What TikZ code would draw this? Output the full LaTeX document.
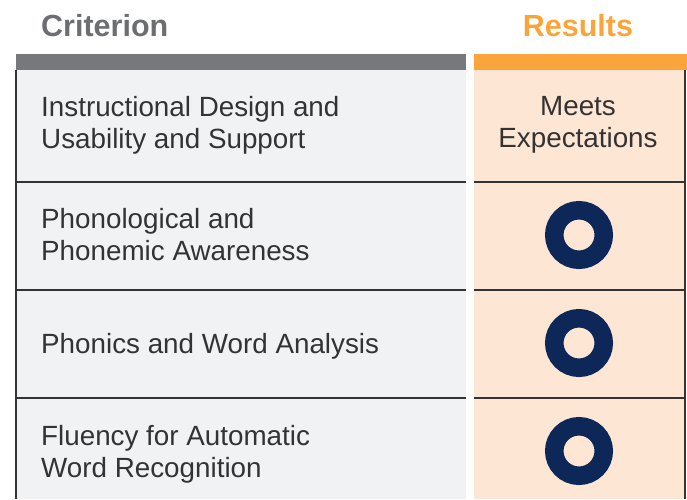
\documentclass[tikz,border=0pt]{standalone}
\usepackage{fontspec}
\setmainfont{Liberation Sans}
\usetikzlibrary{positioning}
\definecolor{headgray}{RGB}{119,120,123}
\definecolor{headorange}{RGB}{249,165,59}
\definecolor{cellgray}{RGB}{241,242,244}
\definecolor{cellorange}{RGB}{253,230,212}
\definecolor{ringblue}{RGB}{13,39,89}
\definecolor{textgray}{RGB}{51,51,51}
\definecolor{titlegray}{RGB}{109,110,113}

\begin{document}
\begin{tikzpicture}[
    x=1pt, y=-1pt,
    title/.style={anchor=base, inner sep=0pt, font=\fontsize{30.5}{30.5}\selectfont\bfseries},
    crit/.style={anchor=base west, inner sep=0pt, align=left, text=textgray,
                 font=\fontsize{27.8}{31.7}\selectfont},
    result/.style={anchor=base, inner sep=0pt, align=center, text=textgray,
                   font=\fontsize{27.8}{32.7}\selectfont},
    ring/.style={circle, draw=ringblue, line width=18.5pt, minimum size=49.5pt, inner sep=0pt},
    rule/.style={draw=textgray, line width=1.1pt}
]
    \useasboundingbox (0,0) rectangle (687,499);

    % column backgrounds and header bars
    \fill[cellgray] (16,70) rectangle (466,499);
    \fill[cellorange] (474,70) rectangle (685,499);
    \fill[headgray] (16,54) rectangle (466,70);
    \fill[headorange] (474,54) rectangle (687,70);

    \node[title, anchor=base west, text=titlegray] (crithead) at (41,36.7) {Criterion};
    \node[title, text=headorange] (reshead) at (578,36.7) {Results};

    % row rules
    \foreach \y in {182,290,398} {
        \draw[rule] (16,\y) -- (466,\y);
        \draw[rule] (474,\y) -- (685,\y);
    }
    \draw[rule] (16,70) -- (16,499);
    \draw[rule] (685,70) -- (685,499);

    % base anchor sits on the last line
    \node[crit] (design) at (41,148.3) {Instructional Design and\\Usability and Support};
    \node[crit] (phonemic) at (41,260) {Phonological and\\Phonemic Awareness};
    \node[crit] (phonics) at (41,353.5) {Phonics and Word Analysis};
    \node[crit] (fluency) at (41,477.3) {Fluency for Automatic\\Word Recognition};

    \node[result] (meets) at (578,147.7) {Meets\\Expectations};
    \node[ring] (ringphonemic) at (579,235) {};
    \node[ring] (ringphonics) at (579,343) {};
    \node[ring] (ringfluency) at (579,451) {};
\end{tikzpicture}
\end{document}
